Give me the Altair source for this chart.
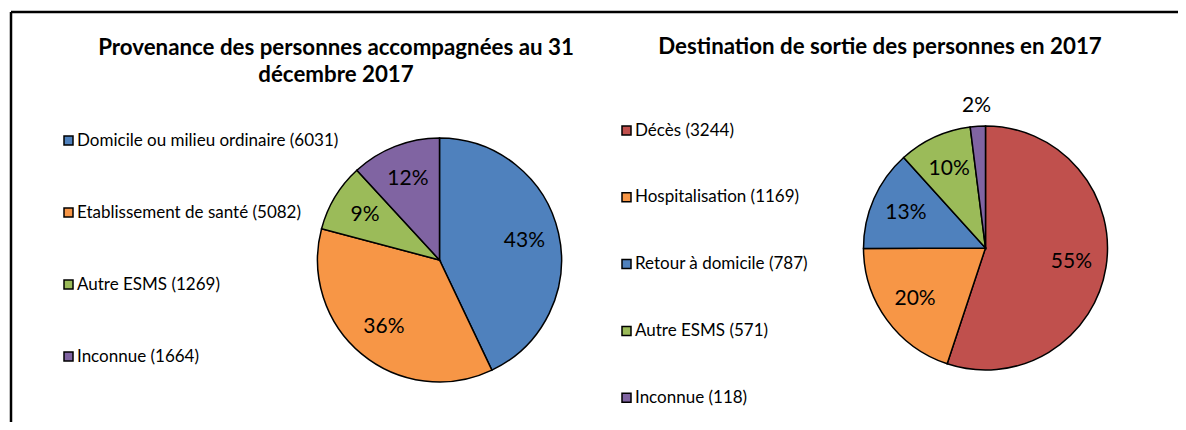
import altair as alt
import pandas as pd

# ---- data ----
prov_labels = ["Domicile ou milieu ordinaire", "Etablissement de santé", "Autre ESMS", "Inconnue"]
prov_values = [6031, 5082, 1269, 1664]
prov_colors = ["#4F81BD", "#F79646", "#9BBB59", "#8064A2"]

dest_labels = ["Décès", "Hospitalisation", "Retour à domicile", "Autre ESMS", "Inconnue"]
dest_values = [3244, 1169, 787, 571, 118]
dest_colors = ["#C0504D", "#F79646", "#4F81BD", "#9BBB59", "#8064A2"]

title_left_1 = "Provenance des personnes accompagnées au 31"
title_left_2 = "décembre 2017"
title_right = "Destination de sortie des personnes en 2017"

FONT = "Lato"


def make_df(labels, values):
    total = sum(values)
    return pd.DataFrame({
        "cat": [f"{l} ({v})" for l, v in zip(labels, values)],
        "value": values,
        "idx": list(range(len(values))),
        "share": [v / total for v in values],
        "pct": [f"{round(100 * v / total)}%" for v in values],
    })


def pie(df, colors, cx, cy, lx, ly, rowpad):
    base = alt.Chart(df).encode(
        theta=alt.Theta("value:Q", stack=True),
        order=alt.Order("idx:Q"),
        x=alt.value(cx),
        y=alt.value(cy),
    )
    arc = base.mark_arc(radius=122, stroke="black", strokeWidth=1.5).encode(
        color=alt.Color(
            "cat:N",
            scale=alt.Scale(domain=list(df["cat"]), range=colors),
            legend=alt.Legend(
                orient="none", legendX=lx, legendY=ly, rowPadding=rowpad,
                title=None, direction="vertical",
            ),
        )
    )
    txt_in = base.transform_calculate(
        lbl="datum.share >= 0.05 ? datum.pct : ''"
    ).mark_text(radius=87, fontSize=21, font=FONT, color="black").encode(
        text="lbl:N", detail="cat:N"
    )
    txt_out = base.transform_calculate(
        lbl="datum.share < 0.05 ? datum.pct : ''"
    ).mark_text(radius=142, fontSize=21, font=FONT, color="black").encode(
        text="lbl:N", detail="cat:N"
    )
    return alt.layer(arc, txt_in, txt_out)


one = pd.DataFrame({"a": [0]})

border_top = alt.Chart(one).mark_rule(color="black", strokeWidth=2.5).encode(
    x=alt.value(3), x2=alt.value(1170), y=alt.value(4)
)
border_left = alt.Chart(one).mark_rule(color="black", strokeWidth=2.5).encode(
    x=alt.value(3), y=alt.value(4), y2=alt.value(414)
)


def title_text(t, x, y):
    return alt.Chart(pd.DataFrame({"t": [t]})).mark_text(
        font=FONT, fontWeight="bold", fontSize=22.3, color="black",
        align="center", baseline="middle",
    ).encode(text="t:N", x=alt.value(x), y=alt.value(y))


t1 = title_text(title_left_1, 328, 40)
t2 = title_text(title_left_2, 328, 67)
t3 = title_text(title_right, 872, 39)

pie1 = pie(make_df(prov_labels, prov_values), prov_colors, 431.5, 252, 52, 124, 54)
pie2 = pie(make_df(dest_labels, dest_values), dest_colors, 977.5, 240, 610, 114, 48.8)

chart = alt.layer(
    border_top, border_left, t1, t2, t3, pie1, pie2
).resolve_scale(
    theta="independent", color="independent"
).properties(
    width=1170, height=414,
    autosize=alt.AutoSizeParams(type="none"),
    padding=0,
).configure_view(
    stroke=None
).configure_legend(
    labelFont=FONT, labelFontSize=17, labelColor="black", labelLimit=0,
    symbolType="square", symbolSize=81, symbolStrokeColor="black",
    symbolStrokeWidth=1.5, symbolOpacity=1, padding=0, offset=0, labelOffset=0,
)

chart.save("out.html", embed_options={"renderer": "svg", "actions": False})
